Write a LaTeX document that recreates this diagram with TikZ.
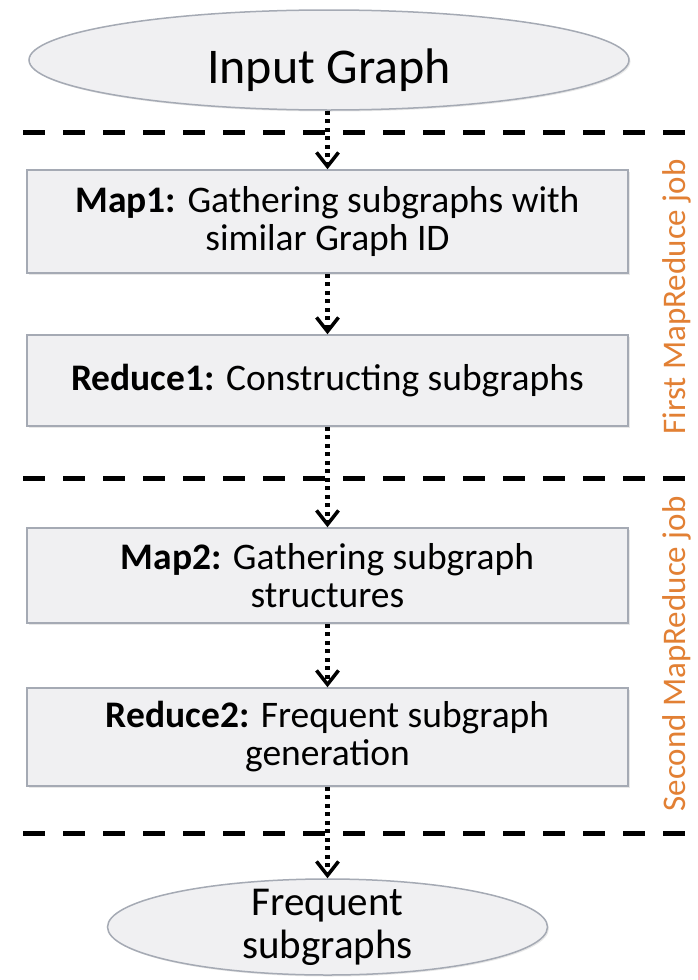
\documentclass[tikz,border=0pt]{standalone}
\usepackage{fontspec}
\setmainfont{Carlito}
\usetikzlibrary{arrows.meta,shapes.geometric,shadows}
\definecolor{boxfill}{RGB}{240,240,242}
\definecolor{boxline}{RGB}{165,170,180}
\definecolor{joborange}{RGB}{226,128,52}
\begin{document}
\begin{tikzpicture}[x=1pt,y=1pt,
  softshadow/.style={drop shadow={shadow xshift=1.5pt,shadow yshift=-1.5pt,opacity=0.18}},
  stepbox/.style={draw=boxline, line width=1.5pt, fill=boxfill, softshadow,
    minimum width=601pt, inner sep=0pt, align=center,
    font=\fontsize{37.5}{38}\selectfont},
  terminal/.style={ellipse, draw=boxline, line width=1.5pt, fill=boxfill, softshadow,
    inner sep=0pt, align=center},
  flow/.style={line width=4.5pt, dash pattern=on 4pt off 4.5pt,
    -{Straight Barb[length=14pt,width=22pt,line width=3.5pt]}},
  jobsep/.style={line width=5pt, dash pattern=on 22pt off 18pt},
  joblabel/.style={rotate=90, text=joborange, inner sep=0pt,
    font=\fontsize{33}{36}\selectfont}]

  % page frame
  \fill[white] (0,0) rectangle (697,-980);
  \useasboundingbox (0,0) rectangle (697,-980);

  % start and end terminals
  \node[terminal, minimum width=600pt, minimum height=100pt,
        font=\fontsize{50}{52}\selectfont, text height=48pt, text depth=2pt]
        (input) at (329,-60) {Input Graph};

  % processing steps
  \node[stepbox, minimum height=103pt] (map1) at (327.5,-221.5)
    {\textbf{Map1:} Gathering subgraphs with\\similar Graph ID};
  \node[stepbox, minimum height=91pt] (red1) at (327.5,-380.5)
    {\textbf{Reduce1:} Constructing subgraphs};
  \node[stepbox, minimum height=95pt] (map2) at (327.5,-575.5)
    {\textbf{Map2:} Gathering subgraph\\structures};
  \node[stepbox, minimum height=98pt] (red2) at (327.5,-737)
    {\textbf{Reduce2:} Frequent subgraph\\generation};

  \node[terminal, minimum width=440pt, minimum height=96pt, inner ysep=-12pt,
        font=\fontsize{41}{43}\selectfont]
        (freq) at (327.5,-927) {Frequent\\subgraphs};

  % job separators
  \coordinate (s1l) at (23,-132);  \coordinate (s1r) at (687,-132);
  \coordinate (s2l) at (23,-478);  \coordinate (s2r) at (687,-478);
  \coordinate (s3l) at (23,-833);  \coordinate (s3r) at (687,-833);
  \draw[jobsep] (s1l) -- (s1r);
  \draw[jobsep] (s2l) -- (s2r);
  \draw[jobsep] (s3l) -- (s3r);

  % data flow
  \draw[flow] (map1.north |- input.south) -- (map1.north);
  \draw[flow] (map1.south) -- (red1.north);
  \draw[flow] (red1.south) -- (map2.north);
  \draw[flow] (map2.south) -- (red2.north);
  \draw[flow] (red2.south) -- (freq.north);

  % job labels
  \node[joblabel] (job1) at (677,-297) {First MapReduce job};
  \node[joblabel] (job2) at (677,-654) {Second MapReduce job};
\end{tikzpicture}
\end{document}
